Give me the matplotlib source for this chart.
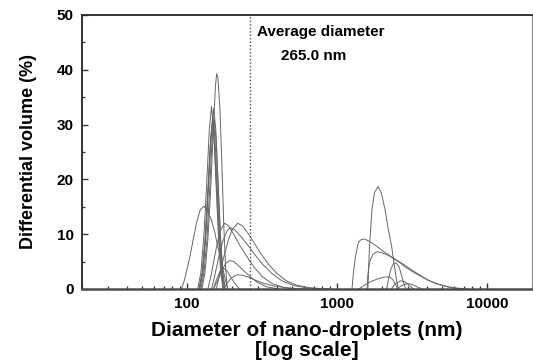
import matplotlib
matplotlib.use("Agg")
import matplotlib.pyplot as plt
from matplotlib.ticker import LogLocator, MultipleLocator, FixedLocator

plt.rcParams["font.family"] = ["Liberation Sans", "DejaVu Sans"]

# ── Size distributions: (diameter nm, differential volume %) ──

# first population (~100-300 nm)
A_X = [92, 96, 100, 105, 111, 117, 123, 130, 137, 146, 153, 160, 168, 176, 182, 188]
A_Y = [0, 1.5, 3.5, 6, 9.5, 12.5, 14.5, 15.1, 14.3, 12.5, 10.5, 8, 5.5, 3, 1.2, 0]

B_X = [126, 132, 138, 144, 150, 155, 158, 161, 166, 171, 176, 181, 186]
B_Y = [0, 3, 9, 18, 29, 37, 39.3, 38.5, 33, 23, 12, 4, 0]

N1_X = [118, 124, 130, 136, 141, 146, 151, 156, 162, 168, 174]
N1_Y = [0, 3, 10, 20, 29, 33.3, 29, 20, 10, 3, 0]

N2_X = [122, 128, 134, 140, 146, 151, 156, 161, 167, 173, 178]
N2_Y = [0, 3, 10, 20, 29, 33.0, 29, 20, 10, 3, 0]

N3_X = [121, 127, 133, 139, 144, 149, 154, 159, 165, 171, 176]
N3_Y = [0, 3, 9.5, 19, 27.5, 31.5, 27.5, 19, 9.5, 3, 0]

N4_X = [124, 130, 136, 142, 147, 152, 157, 162, 168, 174, 180]
N4_Y = [0, 3, 9, 18.5, 27, 30.8, 27, 18.5, 9, 3, 0]

N5_X = [120, 126, 132, 138, 143, 148, 153, 158, 164, 170, 175]
N5_Y = [0, 2.8, 9, 18, 26, 30.0, 26, 18, 9, 2.8, 0]

C_X = [138, 145, 152, 160, 168, 178, 190, 205, 225, 250, 280, 320, 370, 440, 540]
C_Y = [0, 2.5, 5.5, 8.5, 10.8, 12.0, 11.5, 10, 8, 6, 4, 2.2, 1, 0.3, 0]

D_X = [157, 165, 175, 188, 200, 218, 235, 255, 280, 310, 350, 400, 460, 540, 650, 800, 900]
D_Y = [0, 2.5, 5.5, 8.7, 10.8, 12.0, 11.5, 10.2, 8.5, 6.5, 4.5, 2.8, 1.5, 0.7, 0.25, 0.05, 0]

E_X = [146, 155, 165, 175, 186, 196, 210, 230, 255, 285, 320, 370, 430, 520, 650, 850]
E_Y = [0, 3, 6.5, 9, 10.7, 11.2, 10.7, 9.5, 8, 6.2, 4.5, 2.8, 1.5, 0.6, 0.15, 0]

F_X = [150, 160, 170, 182, 193, 205, 220, 240, 265, 295, 340, 410]
F_Y = [0, 1.5, 3.2, 4.7, 5.2, 5.0, 4.3, 3.3, 2.2, 1.2, 0.4, 0]

G_X = [175, 185, 196, 208, 219, 235, 255, 280, 320, 380, 470, 560, 650]
G_Y = [0, 1, 1.9, 2.4, 2.6, 2.5, 2.2, 1.7, 1.1, 0.55, 0.2, 0.05, 0]

H_X = [150, 158, 166, 175, 185, 196, 210, 225]
H_Y = [0, 1.8, 3.2, 3.8, 3.3, 2.2, 0.9, 0]

# second population (~1-7 um)
I_X = [1610, 1630, 1650, 1672, 1714, 1780, 1880, 1980, 2100, 2200, 2322, 2420, 2500, 2570]
I_Y = [0, 4, 7.5, 10, 14.4, 17.5, 18.7, 17.5, 14.4, 11, 7.7, 4.2, 1.6, 0]

J_X = [1262, 1290, 1330, 1395, 1460, 1530, 1650, 1800, 1995, 2270, 2570, 2900, 3320,
       3800, 4270, 4850, 5500, 6400, 7480]
J_Y = [0, 3, 5.9, 8.6, 9.05, 9.1, 8.7, 8, 7.1, 6, 5, 3.9, 2.9, 2, 1.35, 0.8, 0.4, 0.15, 0]

K_X = [1590, 1610, 1640, 1672, 1750, 1850, 2000, 2180, 2380, 2750, 3140, 3600, 4060,
       4600, 5270, 6000, 6700]
K_Y = [0, 2.5, 4.3, 5.3, 6.4, 6.8, 6.6, 6.2, 5.6, 4.6, 3.5, 2.5, 1.6, 0.95, 0.5, 0.15, 0]

L_X = [2150, 2220, 2300, 2400, 2500, 2600, 2700, 2800, 2880]
L_Y = [0, 2, 3.8, 4.7, 4.7, 4, 2.5, 1, 0]

M_X = [1400, 1550, 1700, 1900, 2100, 2250, 2380, 2480, 2540]
M_Y = [0, 0.8, 1.4, 1.9, 2.2, 2.2, 1.6, 0.7, 0]

O_X = [2300, 2450, 2650, 2850, 3050, 3250]
O_Y = [0, 0.9, 1.5, 1.3, 0.6, 0]

P_X = [2500, 2700, 2950, 3200, 3450, 3700]
P_Y = [0, 0.6, 1.0, 0.8, 0.35, 0]

CURVES = [
    (A_X, A_Y), (B_X, B_Y), (N1_X, N1_Y), (N2_X, N2_Y), (N3_X, N3_Y), (N4_X, N4_Y),
    (N5_X, N5_Y), (C_X, C_Y), (D_X, D_Y), (E_X, E_Y), (F_X, F_Y), (G_X, G_Y), (H_X, H_Y),
    (I_X, I_Y), (J_X, J_Y), (K_X, K_Y), (L_X, L_Y), (M_X, M_Y), (O_X, O_Y), (P_X, P_Y),
]

AVG_DIAMETER = 265.0
X_TICKS = [100, 1000, 10000]
X_TICK_LABELS = ["100", "1000", "10000"]
Y_TICKS = [0, 10, 20, 30, 40, 50]


def main() -> None:
    fig = plt.figure(figsize=(5.33, 3.62), dpi=100)
    ax = fig.add_axes([0.154, 0.2017, 0.844, 0.757])

    for xs, ys in CURVES:
        ax.plot(xs, ys, color="0.4", linewidth=0.7)

    ax.axvline(AVG_DIAMETER, color="0.3", linestyle=(0, (1, 1.5)), linewidth=1.0)
    ax.text(AVG_DIAMETER * 1.10, 46.8, "Average diameter", fontsize=11,
            fontweight="bold", ha="left", va="center")
    ax.text(AVG_DIAMETER * 1.60, 42.6, f"{AVG_DIAMETER:.1f} nm", fontsize=11,
            fontweight="bold", ha="left", va="center")

    ax.set_xscale("log")
    ax.set_xlim(20, 20000)
    ax.set_ylim(0, 50)

    ax.xaxis.set_major_locator(FixedLocator(X_TICKS))
    ax.set_xticklabels(X_TICK_LABELS)
    ax.xaxis.set_minor_locator(LogLocator(base=10, subs=range(2, 10)))
    ax.xaxis.set_minor_formatter(plt.NullFormatter())
    ax.yaxis.set_major_locator(FixedLocator(Y_TICKS))
    ax.yaxis.set_minor_locator(MultipleLocator(5))

    ax.tick_params(axis="both", which="both", direction="in", top=False, right=False,
                   color="0.2")
    ax.tick_params(axis="both", which="major", length=4, width=1.0, labelsize=11, pad=6)
    ax.tick_params(axis="both", which="minor", length=2.5, width=0.9)
    for lab in ax.get_xticklabels() + ax.get_yticklabels():
        lab.set_fontweight("bold")

    ax.spines["bottom"].set_linewidth(1.8)
    ax.spines["bottom"].set_color("0.3")
    ax.spines["left"].set_linewidth(1.4)
    ax.spines["left"].set_color("0.2")
    ax.spines["top"].set_linewidth(1.3)
    ax.spines["top"].set_color("0.15")
    ax.spines["right"].set_linewidth(0.8)
    ax.spines["right"].set_color("0.55")

    ax.set_xlabel("Diameter of nano-droplets (nm)\n[log scale]", fontsize=15,
                  fontweight="bold", labelpad=7, linespacing=1.05)
    ax.set_ylabel("Differential volume (%)", fontsize=13, fontweight="bold", labelpad=14)

    fig.savefig("out.png", dpi=100)
    plt.close(fig)


if __name__ == "__main__":
    main()
